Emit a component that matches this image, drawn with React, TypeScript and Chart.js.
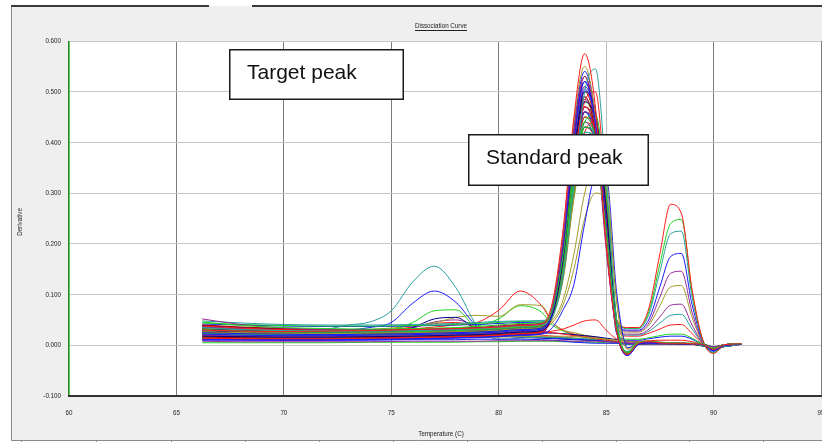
import { useEffect, useRef } from 'react';
import { Chart, registerables } from 'chart.js';

Chart.register(...registerables);

const W = 822;
const H = 442;

// Melt temperatures (°C) sampled for the standard / blank wells
const meltTemps = [66.2, 68, 70, 72, 74, 76, 78, 79, 80, 81, 82, 82.5, 83, 83.5, 84, 84.5, 85, 85.5, 86, 86.5, 87, 87.5, 88, 88.5, 89, 89.5, 90, 90.5, 91.3];
// Finer sampling around the low-melting target products
const targetTemps = [66.2, 68, 70, 72, 73, 74, 75, 76, 77, 78, 79, 80, 81, 82, 82.5, 83, 83.5, 84, 84.5, 85, 85.5, 86, 87, 88, 89, 90, 91.3];

const xTicks = [60, 65, 70, 75, 80, 85, 90, 95];
const yTicks = [0.6, 0.5, 0.4, 0.3, 0.2, 0.1, 0, -0.1];

// -dF/dT for wells showing only the standard product (~84 °C)
const standardWells: number[][] = [
  [.030, .028, .027, .028, .029, .031, .033, .034, .036, .039, .042, .085, .230, .450, .575, .470, .200, .025, -.018, .004, .007, .005, .004, .004, .003, .002, -.008, .001, .003],
  [.046, .039, .035, .033, .032, .033, .035, .037, .040, .043, .045, .070, .180, .350, .410, .380, .230, .035, -.015, .006, .008, .006, .005, .004, .004, .003, -.006, .001, .003],
  [.022, .020, .019, .019, .020, .021, .023, .024, .026, .029, .032, .065, .190, .400, .520, .440, .240, .030, -.020, .002, .006, .005, .004, .003, .003, .002, -.010, .000, .002],
  [.035, .031, .029, .028, .028, .029, .031, .033, .035, .038, .041, .055, .140, .320, .500, .545, .330, .045, -.012, .005, .007, .006, .005, .004, .004, .003, -.007, .001, .003],
  [.052, .041, .034, .031, .030, .030, .032, .034, .037, .040, .043, .075, .210, .420, .530, .430, .190, .025, -.019, .003, .006, .005, .004, .004, .003, .002, -.009, .000, .002],
  [.027, .025, .024, .023, .024, .025, .027, .028, .030, .033, .036, .080, .220, .440, .550, .450, .210, .027, -.017, .004, .006, .005, .004, .004, .003, .002, -.008, .001, .003],
  [.018, .017, .016, .016, .017, .018, .020, .021, .023, .026, .029, .060, .170, .370, .500, .460, .270, .035, -.016, .003, .006, .005, .004, .003, .003, .002, -.009, .000, .002],
  [.040, .036, .033, .031, .030, .031, .033, .035, .038, .041, .044, .070, .190, .380, .490, .420, .230, .030, -.018, .004, .007, .005, .004, .004, .003, .003, -.008, .001, .003],
  [.014, .013, .013, .013, .014, .015, .017, .018, .020, .023, .026, .060, .170, .360, .470, .420, .250, .035, -.015, .004, .006, .005, .004, .003, .003, .002, -.007, .000, .002],
  [.031, .028, .026, .026, .026, .027, .029, .031, .033, .036, .039, .065, .160, .340, .440, .455, .300, .045, -.013, .005, .007, .005, .004, .004, .003, .002, -.006, .001, .003],
  [.025, .023, .022, .021, .022, .023, .025, .026, .028, .031, .034, .075, .220, .430, .540, .450, .200, .025, -.020, .002, .005, .004, .004, .003, .003, .002, -.010, .000, .002],
  [.048, .044, .041, .040, .040, .041, .043, .045, .047, .048, .049, .065, .170, .340, .440, .400, .240, .035, -.016, .005, .007, .005, .004, .004, .003, .002, -.007, .001, .003],
  [.020, .018, .017, .017, .018, .019, .021, .022, .024, .027, .030, .070, .200, .400, .510, .450, .230, .030, -.018, .003, .006, .005, .004, .003, .003, .002, -.009, .000, .002],
  [.034, .031, .029, .028, .028, .029, .031, .032, .034, .037, .040, .050, .090, .180, .300, .360, .330, .080, -.008, .006, .007, .006, .005, .004, .004, .003, -.006, .001, .003],
  [.028, .026, .024, .024, .024, .025, .027, .028, .030, .033, .036, .068, .185, .380, .480, .440, .250, .033, -.017, .004, .006, .005, .004, .004, .003, .002, -.008, .001, .003],
  [.016, .015, .014, .014, .015, .016, .018, .019, .021, .024, .027, .070, .210, .420, .530, .440, .200, .027, -.019, .003, .006, .005, .004, .003, .003, .002, -.009, .000, .002],
  [.038, .034, .031, .030, .029, .030, .032, .034, .036, .039, .042, .065, .170, .360, .480, .500, .290, .040, -.015, .005, .007, .005, .004, .004, .003, .002, -.007, .001, .003],
  [.024, .022, .021, .020, .021, .022, .024, .025, .027, .030, .033, .060, .160, .320, .430, .420, .270, .040, -.014, .004, .006, .005, .004, .003, .003, .002, -.007, .000, .002],
  [.012, .011, .011, .011, .012, .013, .015, .016, .018, .020, .022, .035, .070, .120, .240, .330, .330, .100, -.005, .004, .005, .004, .004, .003, .003, .002, -.006, .000, .002],
  [.029, .027, .025, .025, .025, .026, .028, .029, .031, .034, .037, .072, .200, .400, .490, .420, .210, .029, -.018, .004, .006, .005, .004, .004, .003, .002, -.008, .001, .003],
  [.037, .033, .031, .030, .030, .031, .033, .034, .036, .039, .042, .062, .165, .350, .460, .430, .260, .035, -.016, .005, .007, .005, .004, .004, .003, .002, -.007, .001, .003],
  [.021, .019, .018, .018, .019, .020, .022, .023, .025, .028, .031, .045, .080, .150, .250, .300, .290, .090, -.006, .005, .006, .005, .004, .004, .003, .002, -.006, .000, .002],
  [.033, .030, .028, .027, .027, .028, .030, .031, .033, .036, .039, .075, .210, .420, .520, .440, .210, .027, -.019, .003, .006, .005, .004, .003, .003, .002, -.009, .000, .002],
  [.026, .024, .023, .022, .023, .024, .026, .027, .029, .032, .035, .063, .170, .360, .470, .430, .250, .033, -.016, .004, .006, .005, .004, .004, .003, .002, -.008, .001, .003],
  [.019, .018, .017, .017, .018, .019, .021, .022, .024, .027, .030, .060, .160, .340, .450, .420, .260, .037, -.015, .004, .006, .005, .004, .003, .003, .002, -.007, .000, .002],
  [.044, .041, .039, .038, .038, .039, .041, .043, .045, .047, .048, .060, .150, .310, .400, .390, .260, .040, -.014, .005, .007, .005, .004, .004, .003, .002, -.007, .001, .003],
  [.010, .010, .010, .010, .011, .012, .014, .015, .017, .020, .023, .066, .190, .390, .505, .440, .230, .030, -.018, .002, .005, .004, .003, .003, .002, .002, -.010, .000, .002],
  [.023, .021, .020, .020, .021, .022, .024, .025, .027, .030, .033, .058, .150, .320, .420, .410, .280, .040, -.014, .004, .006, .005, .004, .003, .003, .002, -.007, .000, .002],
  [.032, .029, .027, .026, .026, .027, .029, .030, .032, .035, .038, .068, .185, .380, .485, .430, .240, .031, -.017, .004, .006, .005, .004, .004, .003, .002, -.008, .001, .003],
  [.015, .014, .014, .014, .015, .016, .018, .019, .021, .024, .027, .055, .140, .290, .390, .380, .280, .043, -.013, .004, .006, .005, .004, .003, .003, .002, -.007, .000, .002],
  [.039, .035, .032, .030, .030, .031, .033, .034, .036, .039, .042, .064, .170, .350, .460, .420, .250, .035, -.016, .005, .007, .005, .004, .004, .003, .002, -.007, .001, .003],
  [.011, .011, .011, .011, .012, .013, .015, .016, .018, .021, .024, .068, .195, .400, .500, .430, .210, .028, -.018, .002, .005, .004, .003, .003, .002, .002, -.009, .000, .002],
  [.027, .025, .024, .023, .024, .025, .027, .028, .030, .033, .036, .058, .150, .320, .420, .440, .300, .045, -.013, .005, .006, .005, .004, .004, .003, .002, -.007, .001, .003],
  [.017, .016, .015, .015, .016, .017, .019, .020, .022, .025, .028, .066, .185, .380, .480, .430, .240, .031, -.017, .003, .006, .005, .004, .003, .003, .002, -.008, .000, .002],
  [.036, .032, .030, .029, .029, .030, .032, .033, .035, .038, .041, .060, .160, .330, .430, .410, .260, .037, -.015, .005, .007, .005, .004, .004, .003, .002, -.007, .001, .003],
  [.013, .012, .012, .012, .013, .014, .016, .017, .019, .022, .025, .070, .200, .410, .510, .440, .210, .029, -.018, .003, .005, .004, .004, .003, .003, .002, -.009, .000, .002],
];

// Wells that also melt a second product near 88 °C
const highMeltWells: number[][] = [
  [.028, .026, .025, .025, .026, .027, .029, .030, .032, .035, .038, .060, .140, .310, .430, .400, .260, .050, .035, .035, .075, .180, .278, .260, .110, .010, -.016, .000, .003],
  [.033, .030, .028, .027, .027, .028, .030, .031, .033, .036, .039, .062, .145, .320, .450, .410, .250, .045, .034, .034, .068, .160, .240, .248, .105, .010, -.015, .000, .003],
  [.020, .019, .018, .018, .019, .020, .022, .023, .025, .028, .031, .058, .135, .300, .420, .400, .270, .048, .033, .033, .062, .145, .220, .225, .095, .010, -.014, .000, .003],
  [.042, .040, .038, .037, .037, .038, .040, .041, .043, .045, .046, .064, .150, .330, .460, .410, .250, .044, .030, .030, .052, .115, .175, .181, .080, .008, -.012, .000, .003],
  [.024, .022, .021, .021, .022, .023, .025, .026, .028, .031, .034, .060, .140, .310, .440, .400, .260, .042, .028, .028, .045, .095, .142, .146, .065, .006, -.010, .000, .002],
  [.031, .028, .027, .026, .026, .027, .029, .030, .032, .035, .038, .058, .130, .290, .410, .390, .270, .040, .026, .026, .040, .078, .115, .118, .055, .005, -.009, .000, .002],
  [.016, .015, .015, .015, .016, .017, .019, .020, .022, .025, .028, .060, .145, .320, .450, .410, .250, .036, .022, .022, .032, .056, .079, .081, .040, .004, -.008, .000, .002],
  [.026, .024, .023, .023, .023, .024, .026, .027, .029, .032, .035, .062, .150, .330, .460, .410, .240, .034, .020, .020, .028, .044, .059, .061, .032, .004, -.007, .000, .002],
  [.035, .032, .030, .029, .029, .030, .032, .033, .035, .038, .041, .060, .140, .310, .440, .410, .260, .032, .018, .018, .024, .032, .040, .041, .023, .003, -.006, .000, .002],
  [.019, .018, .017, .017, .018, .019, .021, .022, .024, .027, .030, .058, .135, .300, .430, .400, .260, .025, .012, .012, .015, .019, .022, .022, .014, .002, -.005, .000, .002],
  [.022, .021, .020, .020, .021, .022, .024, .025, .027, .030, .033, .062, .150, .330, .470, .420, .240, .022, .010, .010, .013, .016, .018, .018, .012, .002, -.005, .000, .002],
  [.014, .013, .013, .013, .014, .015, .017, .018, .020, .023, .026, .028, .032, .040, .048, .050, .030, .012, .008, .008, .009, .010, .010, .010, .007, .002, -.004, .000, .002],
];

// Target-product wells (peaks between 77 and 82 °C), sampled at targetTemps
const targetWells: number[][] = [
  [.032, .030, .029, .032, .040, .046, .068, .125, .156, .114, .038, .012, .014, .016, .016, .015, .014, .013, .012, .010, .006, .002, .004, .004, .003, -.004, .002],
  [.028, .026, .025, .027, .030, .035, .045, .083, .107, .085, .037, .020, .016, .015, .014, .013, .012, .011, .010, .008, .005, .002, .003, .003, .003, -.004, .002],
  [.025, .023, .022, .023, .024, .027, .030, .045, .068, .070, .032, .022, .018, .016, .015, .014, .013, .012, .011, .010, .007, .003, .004, .003, .003, -.004, .002],
  [.020, .019, .018, .019, .020, .022, .026, .035, .052, .055, .030, .020, .016, .014, .013, .012, .011, .010, .009, .008, .006, .003, .003, .003, .002, -.004, .002],
  [.030, .028, .027, .028, .029, .031, .034, .038, .044, .055, .059, .057, .080, .078, .045, .030, .025, .020, .016, .012, .008, .004, .004, .003, .003, -.004, .002],
  [.026, .024, .023, .024, .025, .027, .029, .032, .036, .040, .045, .069, .107, .078, .045, .030, .022, .018, .015, .012, .008, .004, .004, .003, .003, -.004, .002],
  [.022, .021, .020, .021, .022, .024, .026, .028, .031, .034, .038, .052, .078, .065, .040, .028, .020, .016, .013, .010, .006, .003, .003, .003, .002, -.004, .002],
  [.022, .020, .019, .020, .021, .023, .027, .034, .046, .050, .038, .026, .020, .017, .015, .013, .012, .011, .010, .008, .005, .002, .003, .003, .002, -.004, .002],
  [.027, .025, .024, .025, .026, .028, .031, .036, .043, .045, .036, .028, .023, .020, .018, .016, .014, .012, .010, .008, .005, .002, .003, .003, .002, -.004, .002],
];

// No-template wells: flat traces, sampled at meltTemps
const blankWells: number[][] = [
  [.008, .007, .007, .007, .007, .008, .008, .008, .009, .009, .009, .009, .009, .008, .008, .008, .007, .006, .005, .004, .004, .003, .003, .003, .003, .002, -.003, .001, .002],
  [.012, .011, .010, .010, .010, .011, .011, .012, .012, .012, .011, .010, .008, .006, .005, .004, .004, .004, .003, .003, .003, .003, .003, .003, .002, .002, -.003, .001, .002],
  [.015, .014, .013, .013, .014, .014, .015, .015, .016, .017, .018, .018, .018, .017, .016, .014, .012, .010, .008, .006, .005, .004, .004, .003, .003, .002, -.003, .001, .002],
  [.020, .018, .017, .017, .018, .019, .020, .021, .022, .024, .026, .025, .022, .019, .016, .013, .010, .007, .004, .003, .003, .003, .003, .003, .002, .002, -.003, .001, .002],
  [.005, .005, .005, .005, .006, .006, .006, .007, .007, .008, .008, .008, .007, .007, .006, .006, .005, .004, .003, .003, .003, .003, .002, .002, .002, .002, -.003, .001, .002],
  [.018, .017, .016, .016, .016, .017, .018, .019, .020, .022, .024, .024, .023, .021, .019, .017, .014, .011, .008, .006, .005, .004, .004, .003, .003, .002, -.003, .001, .002],
];

const RED = '#ff1a1a';
const GREEN = '#1ed41e';
const BLUE = '#1a1aff';
const TEAL = '#2a9f9f';
const PURPLE = '#962c96';
const OLIVE = '#a39b2c';
const NAVY = '#000090';
const MAROON = '#b00000';

const standardColors = [RED, GREEN, BLUE, TEAL, PURPLE, OLIVE, NAVY, MAROON];
const highMeltColors = [RED, GREEN, TEAL, BLUE, PURPLE, OLIVE, PURPLE, TEAL, RED, GREEN, BLUE, RED];
const targetColors = [TEAL, BLUE, GREEN, NAVY, OLIVE, RED, GREEN, PURPLE, RED];
const blankColors = [PURPLE, BLUE, OLIVE, RED, GREEN, NAVY];

const FONT = '"Liberation Sans", Arial, sans-serif';

function narrowText(ctx: CanvasRenderingContext2D, text: string, x: number, y: number, align: CanvasTextAlign, size = 8, sx = 0.78) {
  ctx.save();
  ctx.translate(x, y);
  ctx.scale(sx, 1);
  ctx.font = `${size}px ${FONT}`;
  ctx.textAlign = align;
  ctx.textBaseline = 'middle';
  ctx.fillText(text, 0, 0);
  const w = ctx.measureText(text).width * sx;
  ctx.restore();
  return w;
}

function noteBox(ctx: CanvasRenderingContext2D, x0: number, y0: number, x1: number, y1: number, text: string, tx: number, ty: number) {
  ctx.save();
  ctx.fillStyle = '#ffffff';
  ctx.fillRect(x0, y0, x1 - x0, y1 - y0);
  ctx.strokeStyle = '#1a1a1a';
  ctx.lineWidth = 1.5;
  ctx.strokeRect(x0 + 0.75, y0 + 0.75, x1 - x0 - 1.5, y1 - y0 - 1.5);
  ctx.fillStyle = '#111111';
  ctx.font = `21px ${FONT}`;
  ctx.textAlign = 'left';
  ctx.textBaseline = 'alphabetic';
  ctx.fillText(text, tx, ty);
  ctx.restore();
}

const framePlugin = {
  id: 'dissociationFrame',
  beforeDraw(chart: any) {
    const { ctx, chartArea: a } = chart;
    ctx.save();
    ctx.fillStyle = '#ffffff';
    ctx.fillRect(0, 0, W, H);
    ctx.fillStyle = '#efefef';
    ctx.fillRect(11, 6, W - 11, 434);
    // outer panel border
    ctx.strokeStyle = '#8a8a8a';
    ctx.lineWidth = 1;
    ctx.beginPath();
    ctx.moveTo(11.5, 6);
    ctx.lineTo(11.5, 440.5);
    ctx.lineTo(W, 440.5);
    ctx.stroke();
    // header row dividers below the panel
    ctx.beginPath();
    [21, 96, 171, 245, 319, 393, 467, 542, 616, 689, 763].forEach((x) => {
      ctx.moveTo(x + 0.5, 440);
      ctx.lineTo(x + 0.5, H);
    });
    ctx.stroke();
    // tab strip edge on top
    ctx.strokeStyle = '#3a3a3a';
    ctx.lineWidth = 2;
    ctx.beginPath();
    ctx.moveTo(11, 6);
    ctx.lineTo(209, 6);
    ctx.moveTo(252, 6);
    ctx.lineTo(W, 6);
    ctx.stroke();
    // plot background
    ctx.fillStyle = '#ffffff';
    ctx.fillRect(a.left, a.top, a.right - a.left, a.bottom - a.top);
    ctx.restore();
  },
  afterDraw(chart: any) {
    const { ctx, chartArea: a, scales } = chart;
    const xs = scales.x;
    const ys = scales.y;
    ctx.save();
    // axis lines
    ctx.fillStyle = '#2f7f2f';
    ctx.fillRect(a.left - 1, a.top, 1, a.bottom - a.top);
    ctx.fillStyle = '#5cc95c';
    ctx.fillRect(a.left, a.top, 1, a.bottom - a.top);
    ctx.fillStyle = '#333333';
    ctx.fillRect(a.left - 1, a.bottom - 1, W - a.left + 1, 2);

    ctx.fillStyle = '#222222';
    yTicks.forEach((v) => {
      narrowText(ctx, v.toFixed(3), 61, ys.getPixelForValue(v), 'right');
    });
    xTicks.forEach((v) => {
      narrowText(ctx, String(v), xs.getPixelForValue(v), 413, 'center');
    });

    // title (underlined)
    const tw = narrowText(ctx, 'Dissociation Curve', 441, 26, 'center');
    ctx.fillRect(Math.round(441 - tw / 2), 30, Math.round(tw), 1);

    narrowText(ctx, 'Temperature (C)', 441, 434, 'center');

    ctx.save();
    ctx.translate(20, 222);
    ctx.rotate(-Math.PI / 2);
    narrowText(ctx, 'Derivative', 0, 0, 'center');
    ctx.restore();

    noteBox(ctx, 229, 49, 404, 100, 'Target peak', 247, 79);
    noteBox(ctx, 468, 134, 649, 186, 'Standard peak', 486, 164);
    ctx.restore();
  },
};

function series(temps: number[], rows: number[][], colors: string[]) {
  return rows.map((ys, i) => ({
    data: ys.map((y, j) => ({ x: temps[j], y })),
    borderColor: colors[i % colors.length],
    backgroundColor: colors[i % colors.length],
    borderWidth: 1,
    pointRadius: 0,
    fill: false,
    cubicInterpolationMode: 'monotone' as const,
  }));
}

export default function App() {
  const canvasRef = useRef<HTMLCanvasElement | null>(null);

  useEffect(() => {
    const canvas = canvasRef.current;
    if (!canvas) return;
    const datasets = [
      ...series(meltTemps, standardWells, standardColors),
      ...series(meltTemps, blankWells, blankColors),
      ...series(meltTemps, highMeltWells, highMeltColors),
      ...series(targetTemps, targetWells, targetColors),
    ];
    const chart = new Chart(canvas, {
      type: 'line',
      data: { datasets },
      options: {
        animation: false,
        responsive: false,
        devicePixelRatio: 1,
        events: [],
        layout: { padding: { top: 41, right: 1, left: 0, bottom: 0 } },
        plugins: {
          legend: { display: false },
          title: { display: false },
          tooltip: { enabled: false },
        },
        scales: {
          x: {
            type: 'linear',
            min: 60,
            max: 95,
            afterFit: (s: any) => { s.height = 46; },
            afterBuildTicks: (s: any) => { s.ticks = xTicks.map((value) => ({ value })); },
            ticks: { display: false },
            grid: {
              drawTicks: false,
              lineWidth: 1,
              color: (c: any) => {
                const v = c.tick ? c.tick.value : 0;
                if (v === 60) return 'rgba(0,0,0,0)';
                if (v === 85) return '#bdbdbd';
                return '#7c7c7c';
              },
            },
            border: { display: false },
          },
          y: {
            type: 'linear',
            min: -0.1,
            max: 0.6,
            afterFit: (s: any) => { s.width = 69; },
            afterBuildTicks: (s: any) => { s.ticks = yTicks.map((value) => ({ value })); },
            ticks: { display: false },
            grid: { drawTicks: false, lineWidth: 1, color: '#c8c8c8' },
            border: { display: false },
          },
        },
      },
      plugins: [framePlugin],
    });
    return () => chart.destroy();
  }, []);

  return (
    <div style={{ position: 'fixed', left: 0, top: 0, width: W, height: H, background: '#ffffff' }}>
      <canvas ref={canvasRef} width={W} height={H} style={{ display: 'block', width: W, height: H }} />
    </div>
  );
}
